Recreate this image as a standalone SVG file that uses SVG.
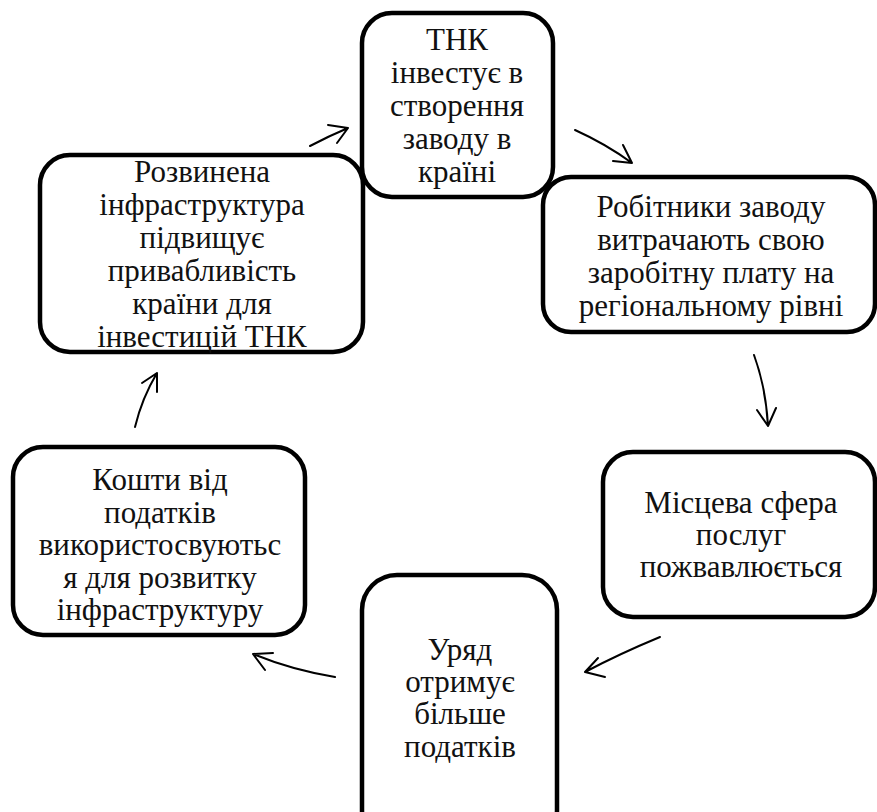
<svg xmlns="http://www.w3.org/2000/svg" width="877" height="812" viewBox="0 0 877 812">
<style>
.box{fill:#fff;stroke:#000;stroke-width:4.5}
text{font-family:'Liberation Serif','Times New Roman',serif;font-size:31px;fill:#111;text-anchor:middle}
.c{fill:none;stroke:#000;stroke-width:2;stroke-linecap:round;stroke-linejoin:round}
</style>
<rect width="877" height="812" fill="#fff"/>
<g id="node-infra">
<rect class="box" x="40" y="155" width="323" height="197" rx="30"/>
<text x="202" y="182">Розвинена</text>
<text x="202" y="215">інфраструктура</text>
<text x="202" y="248">підвищує</text>
<text x="202" y="281">привабливість</text>
<text x="202" y="314">країни для</text>
<text x="202" y="347">інвестицій ТНК</text>
</g>
<g id="node-tnk">
<rect class="box" x="362" y="13" width="191" height="184" rx="30"/>
<text x="457" y="50">ТНК</text>
<text x="457" y="83">інвестує в</text>
<text x="457" y="116">створення</text>
<text x="457" y="149">заводу в</text>
<text x="457" y="182">країні</text>
</g>
<g id="node-workers">
<rect class="box" x="543" y="177" width="332" height="155" rx="28"/>
<text x="711" y="217">Робітники заводу</text>
<text x="711" y="250">витрачають свою</text>
<text x="711" y="283">заробітну плату на</text>
<text x="711" y="316">регіональному рівні</text>
</g>
<g id="node-services">
<rect class="box" x="603" y="452" width="272" height="165" rx="30"/>
<text x="741" y="513">Місцева сфера</text>
<text x="741" y="545">послуг</text>
<text x="741" y="577">пожвавлюється</text>
</g>
<g id="node-gov">
<rect class="box" x="362" y="575" width="195" height="270" rx="35"/>
<text x="460" y="660">Уряд</text>
<text x="460" y="692">отримує</text>
<text x="460" y="724">більше</text>
<text x="460" y="757">податків</text>
</g>
<g id="node-funds">
<rect class="box" x="13" y="447" width="292" height="188" rx="30"/>
<text x="160" y="490">Кошти від</text>
<text x="160" y="523">податків</text>
<text x="160" y="555">використосвуютьс</text>
<text x="160" y="588">я для розвитку</text>
<text x="160" y="620">інфраструктуру</text>
</g>
<g id="connectors">
<path class="c" d="M310,146 Q329,136 348,128 M328,125 L348,128 L337,143"/>
<path class="c" d="M575,130 Q606,144 632,163 M613,161 L632,163 L623,145"/>
<path class="c" d="M754,355 Q766,388 768,426 M757,410 L768,426 L776,408"/>
<path class="c" d="M660,637 Q619,654 585,672 M598,658 L585,672 L605,677"/>
<path class="c" d="M335,677 Q292,670 253,654 M273,653 L253,654 L265,670"/>
<path class="c" d="M135,427 Q142,398 157,373 M142,383 L157,373 L157,392"/>
</g>
</svg>
